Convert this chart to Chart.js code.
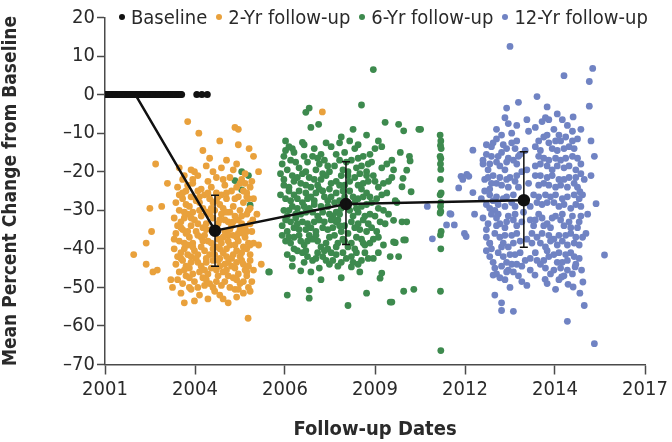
<!DOCTYPE html>
<html>
<head>
<meta charset="utf-8">
<script src="https://cdn.jsdelivr.net/npm/chart.js@4.4.1/dist/chart.umd.min.js"></script>
<style>
  html, body { margin: 0; padding: 0; background: #fff; }
  #wrap { position: relative; width: 672px; height: 442px; }
  #legend {
    position: absolute; top: 5px; left: 110px; white-space: nowrap;
    font-family: 'Liberation Sans Narrow', 'DejaVu Sans Condensed', 'Open Sans', sans-serif;
    font-size: 20px; color: #2a2a2a;
  }
  #legend span.dot { display: inline-block; width: 6px; height: 6px; border-radius: 50%; margin: 0 6px 4px 9px; vertical-align: middle; }
</style>
</head>
<body>
<div id="wrap">
  <canvas id="chart" width="672" height="442"></canvas>
  <div id="legend"></div>
</div>
<script>
// axis ticks (labels are rounded years on evenly spaced ticks)
const xTickValues = [2001, 2003.667, 2006.333, 2009, 2011.667, 2014.333, 2017];
const xTickLabels = ['2001', '2004', '2006', '2009', '2012', '2014', '2017'];
const yTickValues = [20, 10, 0, -10, -20, -30, -40, -50, -60, -70];

const seriesLabels = ['Baseline', '2-Yr follow-up', '6-Yr follow-up', '12-Yr follow-up'];
const seriesColors = ['#111111', '#e9a13c', '#3d8a4e', '#7083c3'];

// group means with error bars
const meanX = [2001.9, 2004.26, 2008.14, 2013.41];
const meanY = [0, -35.3, -28.4, -27.4];
const errLow = [null, -44.5, -38.9, -39.6];
const errHigh = [null, -26.1, -17.4, -14.8];

// baseline measurements (all 0 %)
const baselineX = [
  2001.0, 2001.03, 2001.07, 2001.1, 2001.14, 2001.18, 2001.21, 2001.25, 2001.3, 2001.33,
  2001.37, 2001.41, 2001.45, 2001.48, 2001.52, 2001.56, 2001.6, 2001.63, 2001.67, 2001.71,
  2001.75, 2001.79, 2001.82, 2001.86, 2001.9, 2001.94, 2001.97, 2002.01, 2002.05, 2002.09,
  2002.12, 2002.16, 2002.2, 2002.24, 2002.27, 2002.31, 2002.35, 2002.39, 2002.43, 2002.46,
  2002.5, 2002.54, 2002.58, 2002.61, 2002.65, 2002.69, 2002.73, 2002.77, 2002.8, 2002.84,
  2002.88, 2002.92, 2002.95, 2002.99, 2003.03, 2003.07, 2003.11, 2003.15, 2003.19, 2003.23,
  2003.27, 2003.72, 2003.87, 2004.03
];

// 2-year follow-up [date, % change]
const twoYear = [
  [2001.85,-41.5],[2002.33,-29.5],[2002.68,-29],[2002.38,-35.5],[2002.22,-38.5],[2002.22,-44],[2002.42,-46],
  [2002.55,-45.5],[2002.5,-18],[2002.85,-23],[2003.45,-7],[2003.78,-10],[2004.85,-8.5],[2004.95,-9],
  [2004.95,-13],[2005.27,-14],[2005.4,-16],[2003.9,-14.5],[2004.1,-16.5],[2004.4,-12],[2003.2,-19],
  [2003.35,-21],[2005.24,-58],[2005.63,-44],[2007.44,-4.5],[2002.95,-48],[2003.0,-50],[2003.35,-54],
  [2003.55,-50.5],[2004.05,-53],[2004.4,-52],[2004.65,-54],[2004.9,-52.5],[2005.3,-51],[2005.55,-39],
  [2005.5,-31],[2005.55,-20],[2005.3,-24],
  [2003.55,-19.5],[2003.75,-21],[2004.0,-18.5],[2004.2,-20],[2004.45,-19],[2004.7,-21.5],[2004.9,-18],
  [2005.15,-20.5],[2003.3,-22],[2004.6,-17],
  [2003.15,-24],[2003.4,-25],[2003.6,-23],[2003.85,-24.5],[2004.05,-22.5],[2004.3,-25.5],[2004.55,-23.5],
  [2004.75,-25],[2005.0,-23],[2005.2,-25.5],[2005.35,-22.5],[2003.95,-26],
  [2003.1,-28],[2003.3,-27],[2003.5,-29],[2003.7,-27.5],[2003.9,-29.5],[2004.1,-27],[2004.4,-28.5],
  [2004.6,-27],[2004.8,-29],[2004.95,-26.5],[2005.1,-28],[2005.3,-29.5],[2003.2,-30],[2004.25,-30],[2005.4,-27],
  [2003.05,-32],[2003.25,-33],[2003.45,-31],[2003.65,-32.5],[2003.85,-31.5],[2004.0,-33.5],[2004.2,-32],
  [2004.45,-31],[2004.65,-33],[2004.85,-31.5],[2005.05,-33.5],[2005.2,-31],[2005.38,-32.5],[2003.55,-34],[2004.75,-34],
  [2003.1,-36],[2003.3,-35],[2003.5,-37],[2003.7,-35.5],[2003.95,-36.5],[2004.15,-35],[2004.35,-37.5],
  [2004.55,-35.5],[2004.8,-36.5],[2005.0,-35],[2005.15,-37],[2005.35,-35.5],[2003.2,-38],[2004.05,-38],[2004.95,-38],
  [2003.05,-40],[2003.25,-41],[2003.45,-39],[2003.65,-40.5],[2003.85,-39.5],[2004.1,-41.5],[2004.3,-39.5],
  [2004.5,-41],[2004.7,-39],[2004.9,-40.5],[2005.1,-39.5],[2005.3,-41.5],[2003.55,-42],[2004.6,-42],[2005.4,-38.5],
  [2003.1,-44],[2003.3,-43],[2003.5,-45],[2003.75,-43.5],[2003.95,-45.5],[2004.2,-43],[2004.4,-44.5],
  [2004.65,-43.5],[2004.85,-45],[2005.05,-43],[2005.25,-44.5],[2003.2,-46],[2004.0,-42.5],[2005.4,-45.5],
  [2003.15,-48],[2003.4,-47],[2003.65,-48.5],[2003.9,-47.5],[2004.1,-49],[2004.35,-47],[2004.55,-48.5],
  [2004.8,-47.5],[2005.0,-49],[2005.2,-47],[2003.5,-50],[2004.7,-50],[2005.35,-48.5],
  [2003.25,-51.5],[2003.8,-52],[2004.25,-51],[2004.5,-53],[2005.1,-51.5],[2003.65,-53.5],[2004.85,-50.5],
  [2003.65,-20],[2004.3,-21.5],[2004.8,-19.5],[2005.05,-22],[2003.45,-23.5],[2004.15,-24],[2004.9,-24],
  [2003.8,-26.5],[2004.45,-26],[2005.25,-27],
  [2003.4,-28.5],[2003.8,-28],[2004.0,-30.5],[2004.5,-29.5],[2004.7,-30.5],[2005.0,-30],[2003.6,-30.5],
  [2004.3,-27.5],[2005.2,-26.5],
  [2003.15,-34],[2003.35,-32],[2003.75,-33.5],[2004.1,-31],[2004.35,-33.5],[2004.55,-32.5],[2004.95,-32.5],
  [2005.15,-34.5],[2005.3,-33.5],[2003.9,-34.5],
  [2003.4,-36],[2003.6,-38.5],[2003.85,-37],[2004.25,-36],[2004.45,-38.5],[2004.65,-36.5],[2004.9,-37],
  [2005.1,-36],[2005.25,-38.5],[2003.05,-37.5],
  [2003.15,-42],[2003.35,-40],[2003.75,-41.5],[2003.95,-40.5],[2004.2,-40],[2004.4,-42.5],[2004.6,-40],
  [2004.8,-41.5],[2005.0,-42],[2005.2,-40],
  [2003.4,-44.5],[2003.6,-46.5],[2003.85,-44.5],[2004.05,-46.5],[2004.3,-45.5],[2004.5,-46],[2004.75,-44.5],
  [2004.95,-46.5],[2005.15,-45.5],[2005.3,-43],
  [2003.3,-49],[2003.75,-50],[2004.0,-48],[2004.2,-50],[2004.45,-49.5],[2004.9,-48],[2005.1,-48.5],[2005.25,-50],
  [2003.3,-25.5],[2003.55,-26.5],[2003.75,-25],[2004.05,-25.5],[2004.2,-28],[2004.35,-26.5],[2004.6,-25.5],
  [2004.85,-27],[2005.1,-25],[2003.35,-30.5],[2003.55,-32],[2003.8,-30],[2004.15,-29.5],[2004.4,-32.5],
  [2004.6,-30.5],[2004.8,-33],[2005.05,-31.5],[2005.25,-30],[2003.25,-34.5],[2003.45,-35.5],[2003.75,-36.5],
  [2004.0,-35],[2004.3,-35.5],[2004.5,-37],[2004.7,-35],[2004.95,-36],[2005.2,-35.5],[2003.35,-38.5],
  [2003.6,-39.5],[2003.9,-38],[2004.15,-38.5],[2004.4,-40],[2004.65,-38],[2004.85,-39],[2005.05,-41],
  [2005.3,-39],[2003.25,-42.5],[2003.45,-41.5],[2003.7,-42.5],[2004.0,-43.5],[2004.25,-41.5],[2004.55,-44],
  [2004.75,-42.5],[2005.1,-44],[2003.35,-45.5],[2003.55,-43.5],[2003.8,-46],[2004.15,-45],[2004.35,-43],
  [2004.6,-45.5],[2004.9,-43.5],[2005.2,-46],[2003.5,-47.5],[2003.95,-49.5],[2004.3,-48.5],[2004.65,-47],
  [2004.95,-50.5],[2003.2,-26],[2003.6,-22],[2004.5,-22],[2005.15,-23]
];

// 6-year follow-up [date, % change]
const sixYear = [
  [2008.95,6.5],[2008.6,-2.7],[2006.95,-4.6],[2007.05,-3.5],[2007.1,-8.5],[2007.33,-7.7],[2006.35,-12],
  [2006.55,-14],[2006.85,-12.4],[2007.2,-14],[2010.35,-9],[2009.3,-7.2],[2009.7,-7.7],[2009.85,-9.4],
  [2008.35,-9],[2008.0,-11],[2008.75,-10.5],[2008.5,-13],[2009.1,-12],
  [2006.4,-52],[2007.05,-50.7],[2007.05,-52.8],[2008.2,-54.7],[2008.75,-51.5],[2009.5,-53.8],[2009.85,-51],
  [2010.15,-50.5],[2005.85,-46],[2006.8,-45.7],[2007.1,-46],[2007.65,-44],[2008.3,-44.7],[2009.15,-47.6],
  [2009.2,-46.3],[2009.6,-38.4],[2009.9,-37.7],[2007.4,-48],[2008.0,-47.5],[2008.55,-46],
  [2005.05,-20],[2005.25,-21],[2004.85,-22.3],[2005.05,-24.7],[2005.3,-28.7],[2005.87,-46],
  [2010.93,-10.5],[2010.95,-12],[2010.94,-13.2],[2010.96,-14],[2010.93,-16],[2010.95,-16.6],[2010.94,-18],
  [2010.95,-19.4],[2010.94,-22],[2010.96,-25.5],[2010.93,-26],[2010.95,-28],[2010.94,-29],[2010.95,-30.3],
  [2010.93,-30.7],[2010.96,-35.5],[2010.94,-36.4],[2010.95,-40],[2010.94,-51],[2010.95,-66.4],
  [2010.3,-9],[2010.02,-16],[2010.04,-17.2],[2009.94,-19.6],[2009.83,-21.7],[2009.8,-23.9],[2010.07,-25.2],
  [2009.55,-32.6],[2009.8,-33],[2009.94,-33],[2009.55,-38.2],[2009.85,-37.7],[2009.7,-42],[2009.45,-42],
  [2009.45,-53.8],[2009.65,-28],[2009.75,-15],[2009.55,-19.5],
  [2006.6,-15],[2006.9,-13],[2007.4,-15.5],[2007.7,-13.5],[2008.1,-15],[2008.4,-14],[2008.85,-15.5],
  [2009.2,-13.5],[2007.95,-12.5],[2006.3,-16],
  [2006.25,-18],[2006.5,-17],[2006.75,-19],[2007.0,-17.5],[2007.25,-19.5],[2007.5,-17],[2007.8,-18.5],
  [2008.05,-19.5],[2008.3,-17],[2008.6,-18.5],[2008.9,-17.5],[2009.2,-19],[2009.5,-17],[2007.65,-20],
  [2006.3,-22],[2006.55,-21],[2006.8,-23],[2007.05,-21.5],[2007.3,-23.5],[2007.55,-21],[2007.85,-22.5],
  [2008.1,-23.5],[2008.4,-21.5],[2008.65,-23],[2008.95,-21],[2009.25,-23],[2009.5,-21.5],[2006.45,-24],
  [2006.2,-26],[2006.45,-25],[2006.7,-27],[2006.95,-25.5],[2007.2,-27.5],[2007.45,-25],[2007.7,-26.5],
  [2007.95,-27.5],[2008.25,-25],[2008.5,-27],[2008.75,-25.5],[2009.05,-27],[2009.35,-25.5],[2009.6,-27.5],
  [2006.3,-30],[2006.55,-29],[2006.8,-31],[2007.05,-29.5],[2007.3,-31.5],[2007.6,-29],[2007.85,-30.5],
  [2008.35,-31.5],[2008.6,-29],[2008.85,-31],[2009.1,-29.5],[2009.4,-31],[2006.65,-32],
  [2006.25,-34],[2006.5,-33],[2006.75,-35],[2007.0,-33.5],[2007.25,-35.5],[2007.5,-33],[2007.75,-34.5],
  [2008.0,-35.5],[2008.3,-33],[2008.55,-35],[2008.8,-33.5],[2009.05,-35.5],[2009.3,-33.5],[2007.9,-32.5],
  [2006.35,-38],[2006.6,-37],[2006.9,-39],[2007.15,-37.5],[2007.4,-39.5],[2007.65,-37],[2007.9,-38.5],
  [2008.2,-39.5],[2008.45,-37],[2008.7,-39],[2008.95,-37.5],[2009.25,-39],[2006.25,-36.5],
  [2006.4,-41.5],[2006.7,-40.5],[2007.0,-42],[2007.3,-41],[2007.55,-43],[2007.85,-41.5],[2008.15,-42.5],
  [2008.45,-41],[2008.8,-42.5],[2009.1,-41],[2006.9,-43.5],
  [2006.45,-13.5],[2007.15,-16],[2007.55,-12.5],[2008.25,-12],[2008.65,-16],[2009.0,-14],
  [2006.4,-19.5],[2006.95,-20],[2007.35,-18],[2007.95,-17],[2008.2,-20],[2008.5,-16.5],[2008.75,-20],[2009.35,-18],
  [2006.2,-20.5],[2006.7,-21.5],[2006.95,-23.5],[2007.2,-22],[2007.45,-20.5],[2007.7,-23],[2008.0,-21],
  [2008.25,-22.5],[2008.55,-20.5],[2008.8,-22.5],[2009.1,-24],[2009.4,-22.5],
  [2006.35,-27],[2006.6,-26],[2006.85,-28],[2007.1,-26.5],[2007.35,-24.5],[2007.6,-27.5],[2007.85,-25.5],
  [2008.1,-26.5],[2008.4,-28],[2008.65,-26.5],[2008.9,-28],[2009.2,-26],
  [2006.4,-31.5],[2006.7,-29.5],[2006.95,-30.5],[2007.2,-28.5],[2007.45,-30.5],[2007.75,-31.5],[2008.0,-29.5],
  [2008.25,-30],[2008.5,-30.5],[2008.75,-28.5],[2009.0,-31.5],[2009.25,-30],
  [2006.35,-32.5],[2006.6,-34.5],[2006.85,-33],[2007.1,-34.5],[2007.35,-32.5],[2007.6,-35],[2007.85,-33],
  [2008.1,-34],[2008.4,-34.5],[2008.65,-32.5],[2008.9,-34.5],[2009.15,-33],
  [2006.5,-38.5],[2006.75,-36.5],[2007.0,-38],[2007.25,-36.5],[2007.55,-38.5],[2007.8,-36.5],[2008.05,-37.5],
  [2008.3,-38.5],[2008.6,-37.5],[2008.85,-38.5],[2009.1,-37],
  [2006.55,-42.5],[2006.85,-41],[2007.15,-43],[2007.45,-42],[2007.7,-41],[2008.0,-43.5],[2008.3,-42],
  [2008.6,-43],[2008.95,-42.5],
  [2006.35,-14.5],[2006.65,-17.5],[2006.9,-16],[2007.3,-16.5],[2007.6,-18.5],[2007.85,-15.5],[2008.15,-17.5],
  [2008.45,-19],[2008.8,-18],[2006.3,-23.5],[2006.6,-22.5],[2006.85,-20.5],[2007.1,-24],[2007.4,-22],
  [2007.65,-24.5],[2007.95,-23.5],[2008.2,-21],[2008.5,-23.5],[2008.75,-21],[2009.0,-22.5],[2006.5,-27.5],
  [2006.75,-25],[2007.0,-27],[2007.25,-25.5],[2007.5,-26.5],[2007.8,-28],[2008.05,-25],[2008.35,-26.5],
  [2008.6,-24.5],[2008.85,-26.5],[2006.45,-30],[2006.65,-31],[2006.9,-29],[2007.15,-30.5],[2007.4,-29],
  [2007.65,-31],[2007.95,-31],[2008.2,-29],[2008.45,-29.5],[2008.7,-31.5],[2006.4,-35.5],[2006.7,-33.5],
  [2006.95,-35],[2007.2,-33],[2007.45,-34.5],[2007.7,-32.5],[2007.95,-34],[2008.2,-36],[2008.5,-33.5],
  [2008.75,-35.5],[2006.45,-37],[2006.8,-38],[2007.05,-36.5],[2007.3,-38],[2007.6,-40],[2007.85,-39.5],
  [2008.1,-38],[2008.4,-40],[2008.65,-38.5],[2006.6,-40],[2006.95,-40.5],[2007.25,-42.5],[2007.5,-40.5],
  [2007.75,-43],[2008.05,-41],[2008.35,-43.5],[2008.7,-41],[2006.55,-44.5],[2007.35,-45],[2007.9,-44.5],
  [2008.5,-44]
];

// 12-year follow-up [date, % change]
const twelveYear = [
  [2013.0,12.5],[2015.45,6.8],[2014.6,4.9],[2015.35,3.4],[2015.35,-3],[2013.8,-0.5],[2012.9,-3.5],
  [2013.25,-2],[2014.1,-3.2],[2015.4,-12],[2015.5,-16],[2015.4,-21],[2015.55,-28.3],[2015.8,-41.6],
  [2015.5,-64.6],[2014.7,-58.8],[2012.75,-56],[2013.1,-56.2],[2012.55,-52],[2012.75,-54],[2015.2,-54.7],
  [2011.9,-14.4],[2011.55,-21.2],[2011.72,-20.7],[2012.2,-18],[2011.9,-25.4],[2011.25,-31],[2011.12,-33.8],
  [2011.35,-33.8],[2011.65,-36],[2011.95,-31],[2012.4,-38.6],[2012.5,-46.8],[2011.6,-22],[2011.78,-21.2],
  [2011.48,-24.2],[2010.55,-29],[2011.22,-30.9],[2010.7,-37.4],[2011.7,-36.8],[2014.05,-6],[2013.5,-6.5],
  [2012.95,-7.5],[2014.7,-8],[2014.4,-5],[2015.1,-9],[2014.87,-5.8],[2015.07,-25.2],[2015.07,-51.5],
  [2014.87,-49.9],[2014.72,-49.2],[2015.16,-48.6],[2014.53,-47.3],[2014.04,-47.9],[2013.74,-46.8],
  [2014.93,-44.7],[2015.12,-45.5],[2015.3,-31],[2015.25,-36],
  [2012.85,-6],[2013.2,-8],[2013.55,-9.5],[2013.95,-7],[2014.3,-9],[2014.55,-6.5],[2014.85,-9.5],[2012.6,-9],
  [2012.3,-13],[2012.6,-11.5],[2012.9,-14],[2013.2,-12],[2013.75,-13.5],[2014.0,-11],[2014.25,-14],
  [2014.5,-12],[2014.75,-13.5],[2015.0,-11.5],[2013.45,-14.5],
  [2012.2,-17],[2012.45,-16],[2012.7,-18.5],[2012.95,-16.5],[2013.2,-18],[2013.85,-16],[2014.1,-18.5],
  [2014.35,-16.5],[2014.6,-19],[2014.85,-16],[2015.1,-18],[2013.5,-19.5],[2012.35,-19.5],
  [2012.25,-22],[2012.5,-21],[2012.75,-23.5],[2013.0,-21.5],[2013.25,-24],[2013.75,-21],[2014.0,-23],
  [2014.25,-21],[2014.5,-23.5],[2014.75,-21.5],[2015.0,-24],[2015.2,-22],[2012.4,-24.5],[2013.55,-23],
  [2012.15,-27],[2012.4,-26],[2012.65,-28.5],[2012.9,-26.5],[2013.15,-29],[2013.7,-26],[2013.95,-28.5],
  [2014.2,-26.5],[2014.45,-29],[2014.7,-26.5],[2014.95,-28.5],[2015.15,-26],[2012.55,-30],
  [2012.2,-32],[2012.45,-31],[2012.7,-33.5],[2012.95,-31.5],[2013.2,-34],[2013.6,-32.5],[2013.85,-31],
  [2014.1,-33.5],[2014.35,-31.5],[2014.6,-34],[2014.85,-31.5],[2015.05,-33],[2013.4,-30.5],
  [2012.3,-37],[2012.55,-36],[2012.8,-38.5],[2013.05,-36.5],[2013.3,-38],[2013.65,-36],[2013.9,-38.5],
  [2014.15,-36.5],[2014.4,-39],[2014.65,-36.5],[2014.9,-38.5],[2015.15,-37],
  [2012.4,-42],[2012.65,-41],[2012.9,-43.5],[2013.15,-41.5],[2013.45,-43],[2013.75,-41],[2014.0,-43],
  [2014.3,-41.5],[2014.55,-43.5],[2014.8,-41],[2015.05,-42.5],[2012.75,-44.5],
  [2012.6,-46.5],[2012.85,-48],[2013.1,-46],[2013.35,-48.5],[2013.6,-45.5],[2014.2,-46.5],[2014.45,-48],
  [2014.7,-45.5],[2013.0,-50],[2014.35,-50.5],
  [2013.05,-10],[2013.75,-8.5],[2014.15,-6.5],[2014.45,-10.5],[2012.75,-10.5],
  [2012.45,-13.5],[2012.75,-15],[2013.05,-12.5],[2013.9,-14.5],[2014.15,-12.5],[2014.4,-14.5],[2014.65,-11],
  [2014.9,-14],[2013.3,-15.5],
  [2012.3,-15.5],[2012.6,-17.5],[2012.85,-19.5],[2013.1,-17],[2013.75,-18.5],[2014.0,-16.5],[2014.25,-19.5],
  [2014.5,-17],[2014.75,-18.5],[2015.0,-16.5],[2013.35,-20],
  [2012.35,-21.5],[2012.6,-23],[2012.9,-22],[2013.15,-22.5],[2013.85,-23.5],[2014.1,-21.5],[2014.35,-24],
  [2014.6,-22],[2014.9,-23],[2015.1,-20.5],
  [2012.3,-28.5],[2012.5,-27.5],[2012.8,-27],[2013.05,-28],[2013.8,-28],[2014.05,-26],[2014.3,-28],
  [2014.55,-27],[2014.8,-29.5],[2015.05,-27],[2013.6,-29],
  [2012.35,-33.5],[2012.6,-32],[2012.85,-34.5],[2013.1,-32.5],[2013.7,-34],[2013.95,-32],[2014.2,-34.5],
  [2014.5,-32.5],[2014.75,-33],[2015.0,-34.5],[2013.35,-33],
  [2012.4,-38.5],[2012.7,-37],[2012.95,-39.5],[2013.2,-36],[2013.5,-37.5],[2013.8,-37],[2014.05,-39.5],
  [2014.3,-37.5],[2014.55,-38],[2014.8,-36],[2015.05,-39],
  [2012.5,-43.5],[2012.8,-42],[2013.05,-44],[2013.3,-41],[2013.6,-42.5],[2013.9,-44],[2014.15,-42],
  [2014.45,-41],[2014.7,-43],[2014.95,-44],[2012.3,-40.5],
  [2012.7,-47.5],[2012.95,-45.5],[2013.25,-47],[2013.5,-49.5],[2014.3,-45.5],[2014.6,-47],[2014.1,-49],
  [2012.5,-12.5],[2012.8,-13],[2013.15,-14],[2013.85,-12],[2014.1,-10.5],[2014.35,-12],[2014.6,-14],
  [2014.85,-12],[2012.4,-18],[2012.65,-16],[2012.9,-17.5],[2013.25,-16],[2013.9,-18],[2014.15,-17],
  [2014.4,-18.5],[2014.65,-16.5],[2014.95,-19.5],[2012.45,-23],[2012.7,-21.5],[2012.95,-24],[2013.2,-21],
  [2013.9,-21],[2014.15,-23.5],[2014.45,-22],[2014.7,-24],[2014.95,-21.5],[2012.25,-25],[2012.6,-26.5],
  [2012.85,-29],[2013.1,-26],[2013.85,-26.5],[2014.1,-28],[2014.35,-26],[2014.6,-28.5],[2014.9,-26],
  [2015.1,-29],[2012.4,-29.5],[2012.65,-31],[2012.9,-33],[2013.15,-31],[2013.75,-32.5],[2014.0,-34],
  [2014.25,-32],[2014.55,-31],[2014.8,-34.5],[2015.1,-31.5],[2012.3,-35],[2012.6,-34],[2012.85,-36.5],
  [2013.1,-38.5],[2013.65,-38.5],[2013.95,-36],[2014.2,-38],[2014.45,-36.5],[2014.7,-39],[2014.95,-37],
  [2012.45,-40],[2012.75,-39.5],[2013.0,-41.5],[2013.35,-44.5],[2013.8,-43],[2014.1,-40.5],[2014.4,-43.5],
  [2014.65,-41.5],[2014.9,-42],[2012.55,-45],[2012.9,-46],[2013.2,-44],[2014.05,-45],[2014.5,-45],
  [2014.85,-46.5]
];

const FONT = "'Liberation Sans Narrow', 'DejaVu Sans Condensed', 'Open Sans', sans-serif";
const TEXT = '#2a2a2a';
const AXIS = '#4a4a4a';

const toPoints = (pairs) => pairs.map(([x, y]) => ({ x, y }));

// vertical error bars with caps at each follow-up mean
const errorBars = {
    id: 'errorBars',
    afterDatasetsDraw(chart) {
        const { ctx, scales } = chart;
        ctx.save();
        ctx.strokeStyle = '#111';
        ctx.lineWidth = 1.5;
        meanX.forEach((mx, i) => {
            if (errLow[i] === null) {
                return;
            }
            const px = scales.x.getPixelForValue(mx);
            const top = scales.y.getPixelForValue(errHigh[i]);
            const bottom = scales.y.getPixelForValue(errLow[i]);
            ctx.beginPath();
            ctx.moveTo(px, top);
            ctx.lineTo(px, bottom);
            ctx.moveTo(px - 4, top);
            ctx.lineTo(px + 4, top);
            ctx.moveTo(px - 4, bottom);
            ctx.lineTo(px + 4, bottom);
            ctx.stroke();
        });
        ctx.restore();
    },
};

const scatterSet = (label, pairs, color, radius) => ({
    type: 'scatter',
    label,
    data: toPoints(pairs),
    backgroundColor: color,
    borderWidth: 0,
    pointRadius: radius,
    pointHoverRadius: radius,
});

new Chart(document.getElementById('chart'), {
    data: {
        datasets: [
            {
                type: 'line',
                label: 'Mean',
                data: meanX.map((x, i) => ({ x, y: meanY[i] })),
                borderColor: '#111',
                backgroundColor: '#111',
                borderWidth: 2.5,
                pointRadius: meanX.map((x, i) => (i === 0 ? 0 : 5)),
                tension: 0,
            },
            scatterSet(seriesLabels[0], baselineX.map((x) => [x, 0]), seriesColors[0], 3.5),
            scatterSet(seriesLabels[1], twoYear, seriesColors[1], 3.4),
            scatterSet(seriesLabels[2], sixYear, seriesColors[2], 3.4),
            scatterSet(seriesLabels[3], twelveYear, seriesColors[3], 3.4),
        ],
    },
    options: {
        responsive: false,
        animation: false,
        events: [],
        layout: { padding: { left: 0, right: 27, top: 17.5, bottom: 0 } },
        plugins: { legend: { display: false }, tooltip: { enabled: false } },
        scales: {
            x: {
                type: 'linear',
                min: 2001,
                max: 2017,
                afterBuildTicks(scale) {
                    scale.ticks = xTickValues.map((value) => ({ value }));
                },
                afterFit(scale) {
                    scale.height = 77.5;
                },
                ticks: {
                    autoSkip: false,
                    maxRotation: 0,
                    padding: 3,
                    color: TEXT,
                    font: { family: FONT, size: 20 },
                    callback(value, index) {
                        return xTickLabels[index];
                    },
                },
                grid: { drawOnChartArea: false, drawTicks: true, tickLength: 10, tickColor: AXIS, tickWidth: 1.5 },
                border: { display: true, color: AXIS, width: 1.5 },
                title: {
                    display: true,
                    text: 'Follow-up Dates',
                    color: TEXT,
                    font: { family: FONT, size: 20, weight: 'bold' },
                    padding: { top: 12, bottom: 0 },
                },
            },
            y: {
                type: 'linear',
                min: -70,
                max: 20,
                afterBuildTicks(scale) {
                    scale.ticks = yTickValues.map((value) => ({ value }));
                },
                afterFit(scale) {
                    scale.width = 105;
                },
                ticks: {
                    padding: 2,
                    color: TEXT,
                    font: { family: FONT, size: 20 },
                    callback(value) {
                        return value < 0 ? '\u2013' + Math.abs(value) : String(value);
                    },
                },
                grid: { drawOnChartArea: false, drawTicks: true, tickLength: 8, tickColor: AXIS, tickWidth: 1.5 },
                border: { display: true, color: AXIS, width: 1.5 },
                title: {
                    display: true,
                    text: 'Mean Percent Change from Baseline',
                    color: TEXT,
                    font: { family: FONT, size: 19, weight: 'bold' },
                    padding: { top: 0, bottom: 8 },
                },
            },
        },
    },
    plugins: [errorBars],
});

// legend row built from the series names and colours
const legend = document.getElementById('legend');
seriesLabels.forEach((label, i) => {
    const dot = document.createElement('span');
    dot.className = 'dot';
    dot.style.background = seriesColors[i];
    legend.appendChild(dot);
    legend.appendChild(document.createTextNode(label));
});
</script>
</body>
</html>
